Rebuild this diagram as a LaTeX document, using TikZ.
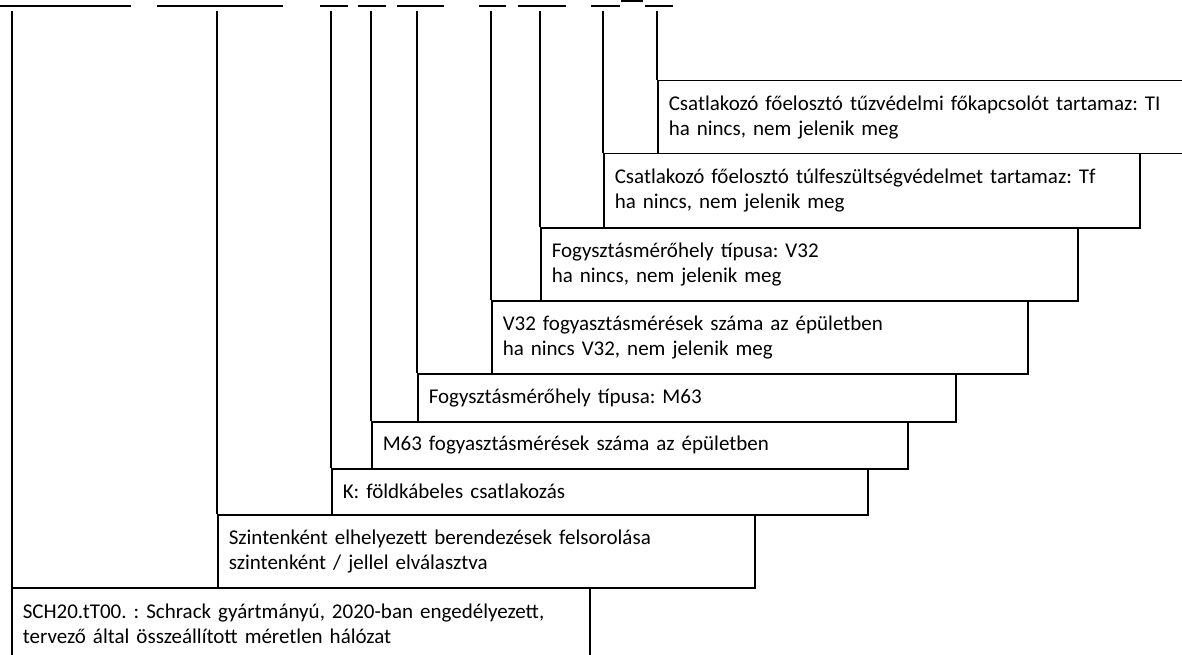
\documentclass[tikz,border=0pt]{standalone}
\usepackage{fontspec}
\setmainfont{Carlito}
\usepackage{tikz}
\usetikzlibrary{positioning}
\frenchspacing
\tikzset{
  field/.style={
    rectangle, draw, line width=1.5pt, anchor=north west,
    align=left, inner xsep=11pt, inner ysep=0pt,
    font=\fontsize{21}{25}\selectfont
  },
  leg/.style={line width=2.2pt},
  bar/.style={line width=2.4pt},
}

\begin{document}
\begin{tikzpicture}[x=1pt, y=-1pt]
  \useasboundingbox (0,0) rectangle (1182,655);
  \clip (0,0) rectangle (1182,655);

  % Code segments (underlines at the top)
  \draw[bar] (0,6) -- (131,6);
  \draw[bar] (157,6) -- (283,6);
  \draw[bar] (320,6) -- (348,6);
  \draw[bar] (358,6) -- (386,6);
  \draw[bar] (397,6) -- (444,6);
  \draw[bar] (479,6) -- (506,6);
  \draw[bar] (518,6) -- (566,6);
  \draw[bar] (591,6) -- (620,6);
  \draw[bar] (621,1) -- (643,1);
  \draw[bar] (645,6) -- (673,6);
  \coordinate (top) at (0,11);

  % Staircase of explanations
  \node[field, text width=556pt, minimum height=73pt] (sch) at (11,587)
    {SCH20.tT00. : Schrack gyártmányú, 2020-ban engedélyezett,\\
     tervező által összeállított méretlen hálózat};
  \node[field, text width=515pt, minimum height=73pt] (szint) at (217,514)
    {Szintenként elhelyezett berendezések felsorolása\\
     szintenként / jellel elválasztva};
  \node[field, text width=514pt, minimum height=46pt] (kabel) at (331,468)
    {K: földkábeles csatlakozás};
  \node[field, text width=514pt, minimum height=47pt] (mdb) at (371,421)
    {M63 fogyasztásmérések száma az épületben};
  \node[field, text width=516pt, minimum height=48pt] (mtip) at (417,373)
    {Fogysztásmérőhely típusa: M63};
  \node[field, text width=514pt, minimum height=73pt] (vdb) at (491,300)
    {V32 fogyasztásmérések száma az épületben\\
     ha nincs V32, nem jelenik meg};
  \node[field, text width=515pt, minimum height=73pt] (vtip) at (540,227)
    {Fogysztásmérőhely típusa: V32\\
     ha nincs, nem jelenik meg};
  \node[field, text width=514pt, minimum height=74pt] (tf) at (603,153)
    {Csatlakozó főelosztó túlfeszültségvédelmet tartamaz: Tf\\
     ha nincs, nem jelenik meg};
  \node[field, text width=521pt, minimum height=73pt] (ti) at (657,80)
    {Csatlakozó főelosztó tűzvédelmi főkapcsolót tartamaz: TI\\
     ha nincs, nem jelenik meg};

  % Legs from the code down to each box
  \draw[leg] ([xshift=1pt]sch.north west) -- ([xshift=1pt]sch.north west |- top);
  \draw[leg] (szint.north west) -- (szint.north west |- top);
  \draw[leg] (kabel.north west) -- (kabel.north west |- top);
  \draw[leg] (mdb.north west) -- (mdb.north west |- top);
  \draw[leg] (mtip.north west) -- (mtip.north west |- top);
  \draw[leg] (vdb.north west) -- (vdb.north west |- top);
  \draw[leg] (vtip.north west) -- (vtip.north west |- top);
  \draw[leg] (tf.north west) -- (tf.north west |- top);
  \draw[leg] (ti.north west) -- (ti.north west |- top);
\end{tikzpicture}
\end{document}
